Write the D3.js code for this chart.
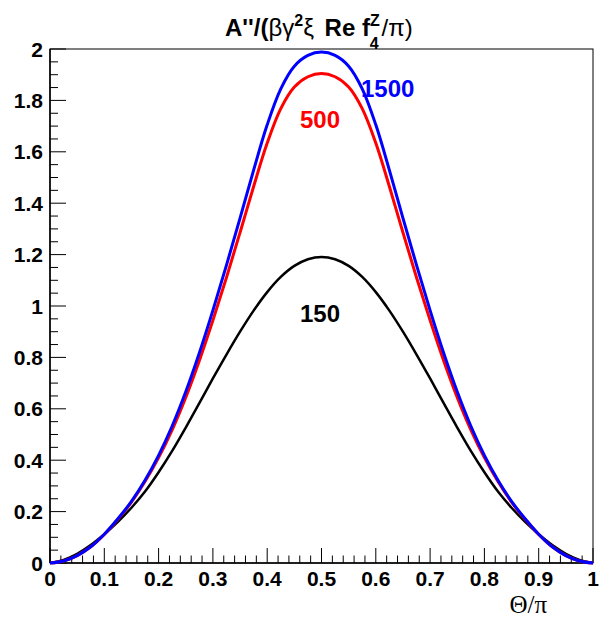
<!DOCTYPE html>
<html>
<head>
<meta charset="utf-8">
<script src="https://cdn.jsdelivr.net/npm/d3@7"></script>
<style>
  body { margin: 0; background: #fff; }
  svg { display: block; }
</style>
</head>
<body>
<div id="chart"></div>
<script>
// Values, x = Θ/π in steps of 0.025
const thetaValues = [0, 0.025, 0.05, 0.075, 0.1, 0.125, 0.15, 0.175, 0.2, 0.225,
                     0.25, 0.275, 0.3, 0.325, 0.35, 0.375, 0.4, 0.425, 0.45, 0.475,
                     0.5, 0.525, 0.55, 0.575, 0.6, 0.625, 0.65, 0.675, 0.7, 0.725,
                     0.75, 0.775, 0.8, 0.825, 0.85, 0.875, 0.9, 0.925, 0.95, 0.975, 1];
const curve150 = [0, 0.012, 0.036, 0.070, 0.112, 0.160, 0.215, 0.278, 0.353, 0.436,
                  0.527, 0.622, 0.718, 0.811, 0.900, 0.982, 1.054, 1.113, 1.156, 1.182,
                  1.191, 1.182, 1.156, 1.113, 1.054, 0.982, 0.900, 0.811, 0.718, 0.622,
                  0.527, 0.436, 0.353, 0.278, 0.215, 0.160, 0.112, 0.070, 0.036, 0.012, 0];
const curve500 = [0, 0.008, 0.029, 0.063, 0.111, 0.170, 0.237, 0.317, 0.410, 0.518,
                  0.644, 0.787, 0.944, 1.111, 1.286, 1.465, 1.634, 1.768, 1.852, 1.892,
                  1.905, 1.892, 1.852, 1.768, 1.634, 1.465, 1.286, 1.111, 0.944, 0.787,
                  0.644, 0.518, 0.410, 0.317, 0.237, 0.170, 0.111, 0.063, 0.029, 0.008, 0];
const curve1500 = [0, 0.008, 0.029, 0.063, 0.112, 0.172, 0.240, 0.322, 0.419, 0.533,
                   0.666, 0.817, 0.983, 1.159, 1.342, 1.529, 1.705, 1.845, 1.933, 1.975,
                   1.988, 1.975, 1.933, 1.845, 1.705, 1.529, 1.342, 1.159, 0.983, 0.817,
                   0.666, 0.533, 0.419, 0.322, 0.240, 0.172, 0.112, 0.063, 0.029, 0.008, 0];
const xTicks = [0, 0.1, 0.2, 0.3, 0.4, 0.5, 0.6, 0.7, 0.8, 0.9, 1];
const yTicks = [0, 0.2, 0.4, 0.6, 0.8, 1, 1.2, 1.4, 1.6, 1.8, 2];

const series = [
    { name: "150",  values: curve150,  color: "#000000", lw: 2.5, lx: 300, ly: 322 },
    { name: "500",  values: curve500,  color: "#ff0000", lw: 3, lx: 300, ly: 128 },
    { name: "1500", values: curve1500, color: "#0000ff", lw: 3, lx: 361, ly: 97 }
];

const W = 600, H = 618;
const margin = { top: 49, right: 7, bottom: 55, left: 50 };
const width = W - margin.left - margin.right,
    height = H - margin.top - margin.bottom;

const svg = d3.select("#chart").append("svg")
    .attr("width", W)
    .attr("height", H);

const x = d3.scaleLinear().domain([0, 1]).range([margin.left, margin.left + width]);
const y = d3.scaleLinear().domain([0, 2]).range([margin.top + height, margin.top]);

const boldFont = "'Liberation Sans', Arial, Helvetica, sans-serif";

// Frame
svg.append("rect")
    .attr("x", x(0)).attr("y", y(2))
    .attr("width", x(1) - x(0)).attr("height", y(0) - y(2))
    .attr("fill", "none")
    .attr("stroke", "#000")
    .attr("stroke-width", 1);

// x ticks: major every 0.1, 5 sub-divisions
const xMinor = d3.range(0, 51).map(i => i / 50);
svg.append("g").selectAll("line")
    .data(xMinor)
    .enter().append("line")
    .attr("x1", d => x(d)).attr("x2", d => x(d))
    .attr("y1", y(0))
    .attr("y2", (d, i) => y(0) - (i % 5 === 0 ? 15 : 7.5))
    .attr("stroke", "#000")
    .attr("stroke-width", 1);

// y ticks: major every 0.2, 4 sub-divisions
const yMinor = d3.range(0, 41).map(i => i / 20);
svg.append("g").selectAll("line")
    .data(yMinor)
    .enter().append("line")
    .attr("y1", d => y(d)).attr("y2", d => y(d))
    .attr("x1", x(0))
    .attr("x2", (d, i) => x(0) + (i % 4 === 0 ? 16 : 8))
    .attr("stroke", "#000")
    .attr("stroke-width", 1);

// Axis lines
svg.append("line")
    .attr("x1", x(0)).attr("x2", x(1)).attr("y1", y(0)).attr("y2", y(0))
    .attr("stroke", "#000").attr("stroke-width", 1.5);
svg.append("line")
    .attr("x1", x(0)).attr("x2", x(0)).attr("y1", y(0)).attr("y2", y(2))
    .attr("stroke", "#000").attr("stroke-width", 1.5);

// Tick labels
svg.append("g").selectAll("text")
    .data(xTicks)
    .enter().append("text")
    .attr("x", d => x(d))
    .attr("y", y(0) + 23)
    .attr("text-anchor", "middle")
    .style("font-family", boldFont)
    .style("font-weight", "bold")
    .style("font-size", "21px")
    .text(d => d3.format("~g")(d));

svg.append("g").selectAll("text")
    .data(yTicks)
    .enter().append("text")
    .attr("x", x(0) - 7)
    .attr("y", d => y(d) + 7.5)
    .attr("text-anchor", "end")
    .style("font-family", boldFont)
    .style("font-weight", "bold")
    .style("font-size", "21px")
    .text(d => d3.format("~g")(d));

// Curves
const line = d3.line()
    .x((d, i) => x(thetaValues[i]))
    .y(d => y(d))
    .curve(d3.curveCatmullRom.alpha(0.5));

svg.append("g").selectAll("path")
    .data(series)
    .enter().append("path")
    .attr("d", d => line(d.values))
    .attr("fill", "none")
    .attr("stroke", d => d.color)
    .attr("stroke-width", d => d.lw);

// Curve labels
svg.append("g").selectAll("text")
    .data(series)
    .enter().append("text")
    .attr("x", d => d.lx)
    .attr("y", d => d.ly)
    .attr("fill", d => d.color)
    .style("font-family", boldFont)
    .style("font-weight", "bold")
    .style("font-size", "24px")
    .text(d => d.name);

// X axis title
svg.append("text")
    .attr("x", 547)
    .attr("y", 613)
    .attr("text-anchor", "end")
    .style("font-family", "'Liberation Serif', 'Times New Roman', serif")
    .style("font-size", "25px")
    .text("Θ/π");

// Title (ROOT latex style, superscripts and stacked sub/superscript)
const title = svg.append("text")
    .attr("x", 225)
    .attr("y", 36)
    .style("font-family", boldFont)
    .style("font-weight", "bold")
    .style("font-size", "24px");
title.append("tspan").text("A''/(");
title.append("tspan").style("font-weight", "normal").text("βγ");
title.append("tspan").attr("dy", -10).style("font-size", "16px").text("2");
title.append("tspan").attr("dy", 10).style("font-weight", "normal").text("ξ");
title.append("tspan").attr("dx", 4).text(" Re f");
title.append("tspan").attr("dy", -10).style("font-size", "16px").text("Z");
title.append("tspan").attr("dx", -10).attr("dy", 23).style("font-size", "16px").text("4");
title.append("tspan").attr("dx", 3).attr("dy", -13).style("font-weight", "normal").text("/π)");
</script>
</body>
</html>
